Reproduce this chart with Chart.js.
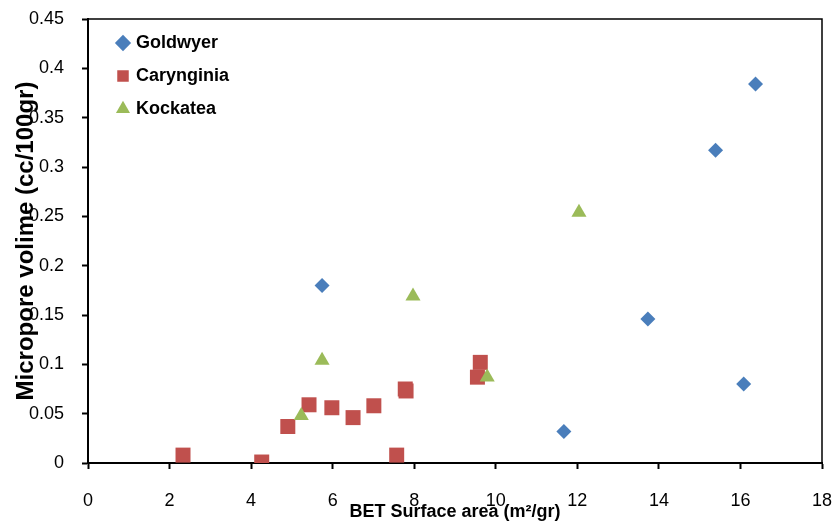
<!DOCTYPE html>
<html>
<head>
<meta charset="utf-8">
<script src="https://cdn.jsdelivr.net/npm/chart.js@4/dist/chart.umd.min.js"></script>
<style>
    body { margin: 0; background: #fff; }
    #wrap { width: 838px; height: 528px; position: relative; }
</style>
</head>
<body>
<div id="wrap"><canvas id="chart-bet"></canvas></div>
<script>
const seriesNames = ['Goldwyer', 'Carynginia', 'Kockatea'];

const goldwyerX = [5.74, 16.37, 15.39, 13.73, 16.08, 11.67];
const goldwyerY = [0.180, 0.384, 0.317, 0.146, 0.080, 0.032];

const caryngX = [2.33, 4.26, 4.90, 5.42, 5.98, 6.50, 7.01, 7.57, 7.78, 7.80, 9.62, 9.55];
const caryngY = [0.008, 0.001, 0.037, 0.059, 0.056, 0.046, 0.058, 0.008, 0.075, 0.073, 0.102, 0.087];

const kockateaX = [5.74, 5.23, 7.97, 9.79, 12.04];
const kockateaY = [0.104, 0.048, 0.169, 0.087, 0.254];

const xTicks = [0, 2, 4, 6, 8, 10, 12, 14, 16, 18];
const yTicks = [0, 0.05, 0.1, 0.15, 0.2, 0.25, 0.3, 0.35, 0.4, 0.45];

const toPoints = (xs, ys) => xs.map((x, i) => ({ x: x, y: ys[i] }));

// thin frame on top and right of the plot area
const framePlugin = {
    id: 'frame',
    beforeDatasetsDraw(chart) {
        const { ctx, chartArea: a } = chart;
        ctx.save();
        ctx.strokeStyle = '#000';
        ctx.lineWidth = 1.5;
        ctx.beginPath();
        ctx.moveTo(a.left, a.top);
        ctx.lineTo(a.right, a.top);
        ctx.lineTo(a.right, a.bottom);
        ctx.stroke();
        ctx.restore();
    }
};

// legend sits inside the plot, top-left corner
const legendShift = {
    id: 'legendShift',
    afterLayout(chart) {
        if (!chart.legend) return;
        chart.legend.left = chart.chartArea.left + 16;
        chart.legend.top = chart.chartArea.top;
    }
};

// keep the plot area where the layout padding puts it
const noScalePadding = s => {
    s.paddingTop = 0;
    s.paddingBottom = 0;
    s.paddingLeft = 0;
    s.paddingRight = 0;
};

const tickFont = { family: 'Liberation Sans, Arial, sans-serif', size: 18 };
const fmt = v => String(+Number(v).toFixed(2));

new Chart(document.getElementById('chart-bet'), {
    type: 'scatter',
    data: {
        datasets: [
            {
                label: seriesNames[0],
                data: toPoints(goldwyerX, goldwyerY),
                pointStyle: 'rectRot',
                pointRadius: 7.5,
                backgroundColor: '#4A7EBB',
                borderColor: '#4A7EBB',
                borderWidth: 0,
                order: 0
            },
            {
                label: seriesNames[1],
                data: toPoints(caryngX, caryngY),
                pointStyle: 'rect',
                pointRadius: 10.6,
                backgroundColor: '#C0504D',
                borderColor: '#C0504D',
                borderWidth: 0,
                order: 2
            },
            {
                label: seriesNames[2],
                data: toPoints(kockateaX, kockateaY),
                pointStyle: 'triangle',
                pointRadius: 8.7,
                backgroundColor: '#9BBB59',
                borderColor: '#9BBB59',
                borderWidth: 0,
                order: 1
            }
        ]
    },
    options: {
        responsive: true,
        maintainAspectRatio: false,
        animation: false,
        layout: { padding: { top: 19, right: 16, left: 0, bottom: 0 } },
        plugins: {
            tooltip: { enabled: false },
            legend: {
                position: 'chartArea',
                align: 'start',
                labels: {
                    usePointStyle: true,
                    boxWidth: 8,
                    boxHeight: 11.5,
                    padding: 15,
                    color: '#000',
                    font: { family: 'Liberation Sans, Arial, sans-serif', size: 18, weight: 'bold' },
                    sort: (a, b) => a.datasetIndex - b.datasetIndex
                }
            }
        },
        scales: {
            x: {
                type: 'linear',
                min: 0,
                max: 18,
                afterBuildTicks: s => { s.ticks = xTicks.map(v => ({ value: v })); },
                afterFit: s => { s.height = 65; noScalePadding(s); },
                grid: { drawOnChartArea: false, drawTicks: true, tickLength: 6, tickColor: '#000', tickWidth: 2 },
                border: { color: '#000', width: 2 },
                ticks: { color: '#000', font: tickFont, padding: 21, callback: fmt },
                title: {
                    display: true,
                    text: 'BET Surface area (m²/gr)',
                    color: '#000',
                    font: { family: 'Liberation Sans, Arial, sans-serif', size: 18, weight: 'bold' },
                    padding: { top: 0, bottom: 5 }
                }
            },
            y: {
                type: 'linear',
                min: 0,
                max: 0.45,
                afterBuildTicks: s => { s.ticks = yTicks.map(v => ({ value: v })); },
                afterFit: s => { s.width = 88; noScalePadding(s); },
                grid: { drawOnChartArea: false, drawTicks: true, tickLength: 6, tickColor: '#000', tickWidth: 2 },
                border: { color: '#000', width: 2 },
                ticks: { color: '#000', font: tickFont, padding: 18, callback: fmt },
                title: {
                    display: true,
                    text: 'Micropore volime (cc/100gr)',
                    color: '#000',
                    font: { family: 'Liberation Sans, Arial, sans-serif', size: 24, weight: 'bold' },
                    padding: { top: 12, bottom: 0 }
                }
            }
        }
    },
    plugins: [framePlugin, legendShift]
});
</script>
</body>
</html>
